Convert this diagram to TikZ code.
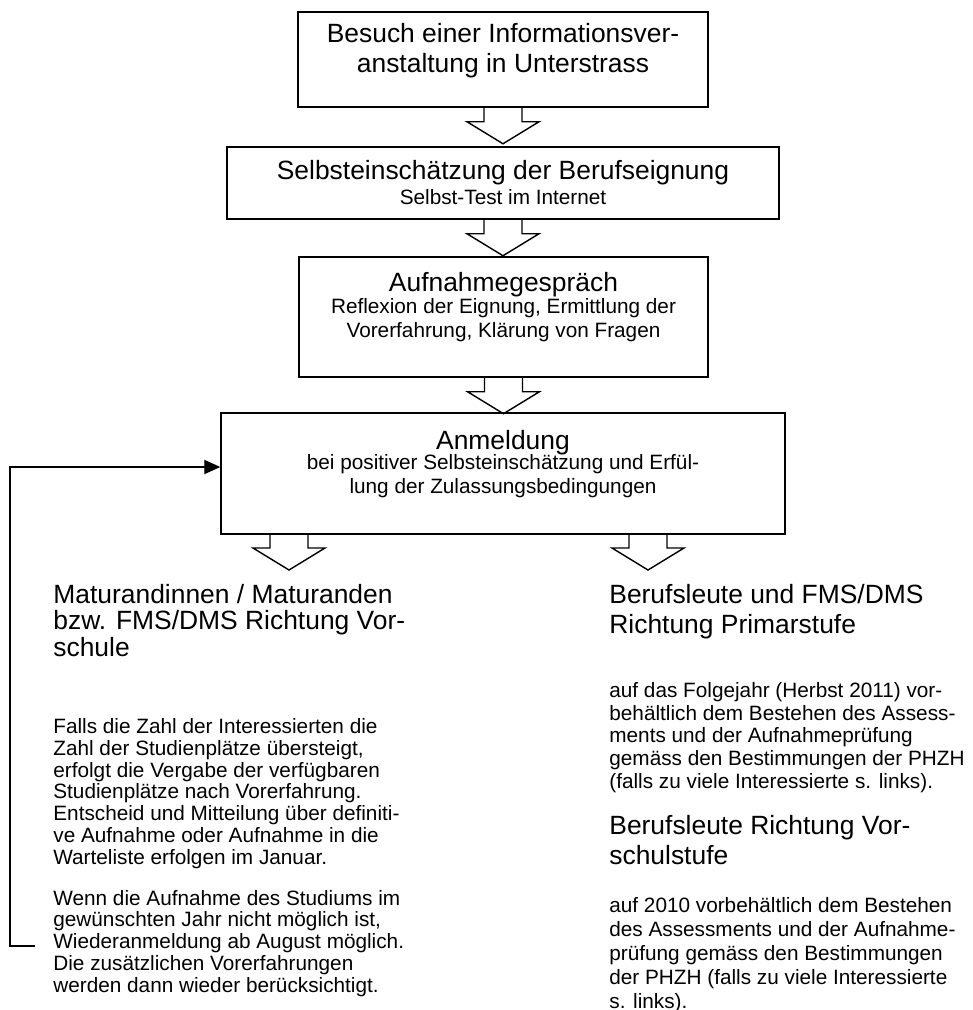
\documentclass[tikz,border=0pt]{standalone}
\usepackage{fontspec}
\setmainfont{Liberation Sans}
\usetikzlibrary{arrows.meta,positioning}

\tikzset{
  boxframe/.style={draw, line width=0.75pt, inner sep=0pt},
  boxtitle/.style={font=\fontsize{14}{15.5}\selectfont, align=center, anchor=base, inner sep=0pt},
  boxsub/.style={font=\fontsize{11}{12.5}\selectfont, align=center, anchor=base, inner sep=0pt},
  colhead/.style={font=\fontsize{14}{#1}\selectfont, align=left, anchor=base west, inner sep=0pt},
  coltext/.style={font=\fontsize{11}{#1}\selectfont, align=left, anchor=base west, inner sep=0pt},
}
\newcommand{\blockarrow}[1]{%
  \draw[line width=0.75pt] (#1) ++(-19,0) -- ++(0,14) -- ++(-17,0) -- ++(36,22) -- ++(36,-22) -- ++(-17,0) -- ++(0,-14);}

\begin{document}
\begin{tikzpicture}[x=0.53pt, y=-0.53pt]
    \useasboundingbox (0,0) rectangle (973,1010);
    % boxes
    \node[boxframe, minimum width=217.3pt, minimum height=50.4pt] (b1) at (503,59.5) {};
    \node[boxframe, minimum width=292.6pt, minimum height=38.2pt] (b2) at (503,183) {};
    \node[boxframe, minimum width=216.8pt, minimum height=63.6pt] (b3) at (503.5,317) {};
    \node[boxframe, minimum width=298.9pt, minimum height=64.1pt] (b4) at (503,473.5) {};
    % box texts (multi-line nodes sit on their last baseline)
    \node[boxtitle] (t1) at (503,72) {Besuch einer Informationsver-\\anstaltung in Unterstrass};
    \node[boxtitle] (t2) at (503,179) {Selbsteinschätzung der Berufseignung};
    \node[boxsub] (s2) at (503,204) {Selbst-Test im Internet};
    \node[boxtitle] (t3) at (503.5,291) {Aufnahmegespräch};
    \node[boxsub] (s3) at (503.5,337) {Reflexion der Eignung, Ermittlung der\\Vorerfahrung, Klärung von Fragen};
    \node[boxtitle] (t4) at (503,449) {Anmeldung};
    \node[boxsub] (s4) at (503,493) {bei positiver Selbsteinschätzung und Erfül-\\lung der Zulassungsbedingungen};
    % hollow arrows
    \foreach \s in {b1.south, b2.south, b3.south} \blockarrow{\s};
    \coordinate (a4) at (289,534);
    \coordinate (a5) at (648,534);
    \blockarrow{a4}
    \blockarrow{a5}
    % left column
    \node[colhead=14pt] (lh) at (53,656) {Maturandinnen / Maturanden\\bzw. FMS/DMS Richtung Vor-\\schule};
    \node[coltext=11.5pt] (lp1) at (53,864) {Falls die Zahl der Interessierten die\\Zahl der Studienplätze übersteigt,\\erfolgt die Vergabe der verfügbaren\\Studienplätze nach Vorerfahrung.\\Entscheid und Mitteilung über definiti-\\ve Aufnahme oder Aufnahme in die\\Warteliste erfolgen im Januar.};
    \node[coltext=11.5pt] (lp2) at (53,992) {Wenn die Aufnahme des Studiums im\\gewünschten Jahr nicht möglich ist,\\Wiederanmeldung ab August möglich.\\Die zusätzlichen Vorerfahrungen\\werden dann wieder berücksichtigt.};
    % right column
    \node[colhead=15.9pt] (rh1) at (609,633) {Berufsleute und FMS/DMS\\Richtung Primarstufe};
    \node[coltext=12pt] (rp1) at (609,788) {auf das Folgejahr (Herbst 2011) vor-\\behältlich dem Bestehen des Assess-\\ments und der Aufnahmeprüfung\\gemäss den Bestimmungen der PHZH\\(falls zu viele Interessierte s. links).};
    \node[colhead=15.9pt] (rh2) at (609,864) {Berufsleute Richtung Vor-\\schulstufe};
    \node[coltext=12.7pt] (rp2) at (609,1008) {auf 2010 vorbehältlich dem Bestehen\\des Assessments und der Aufnahme-\\prüfung gemäss den Bestimmungen\\der PHZH (falls zu viele Interessierte\\s. links).};
    % re-registration loop
    \coordinate (fbstart) at (35,946);
    \coordinate (fbcorner) at (10,467);
    \draw[line width=0.75pt, -{Triangle[length=8.5pt, width=7.5pt]}] (fbstart) -| (fbcorner) -- (fbcorner -| b4.west);
\end{tikzpicture}
\end{document}
